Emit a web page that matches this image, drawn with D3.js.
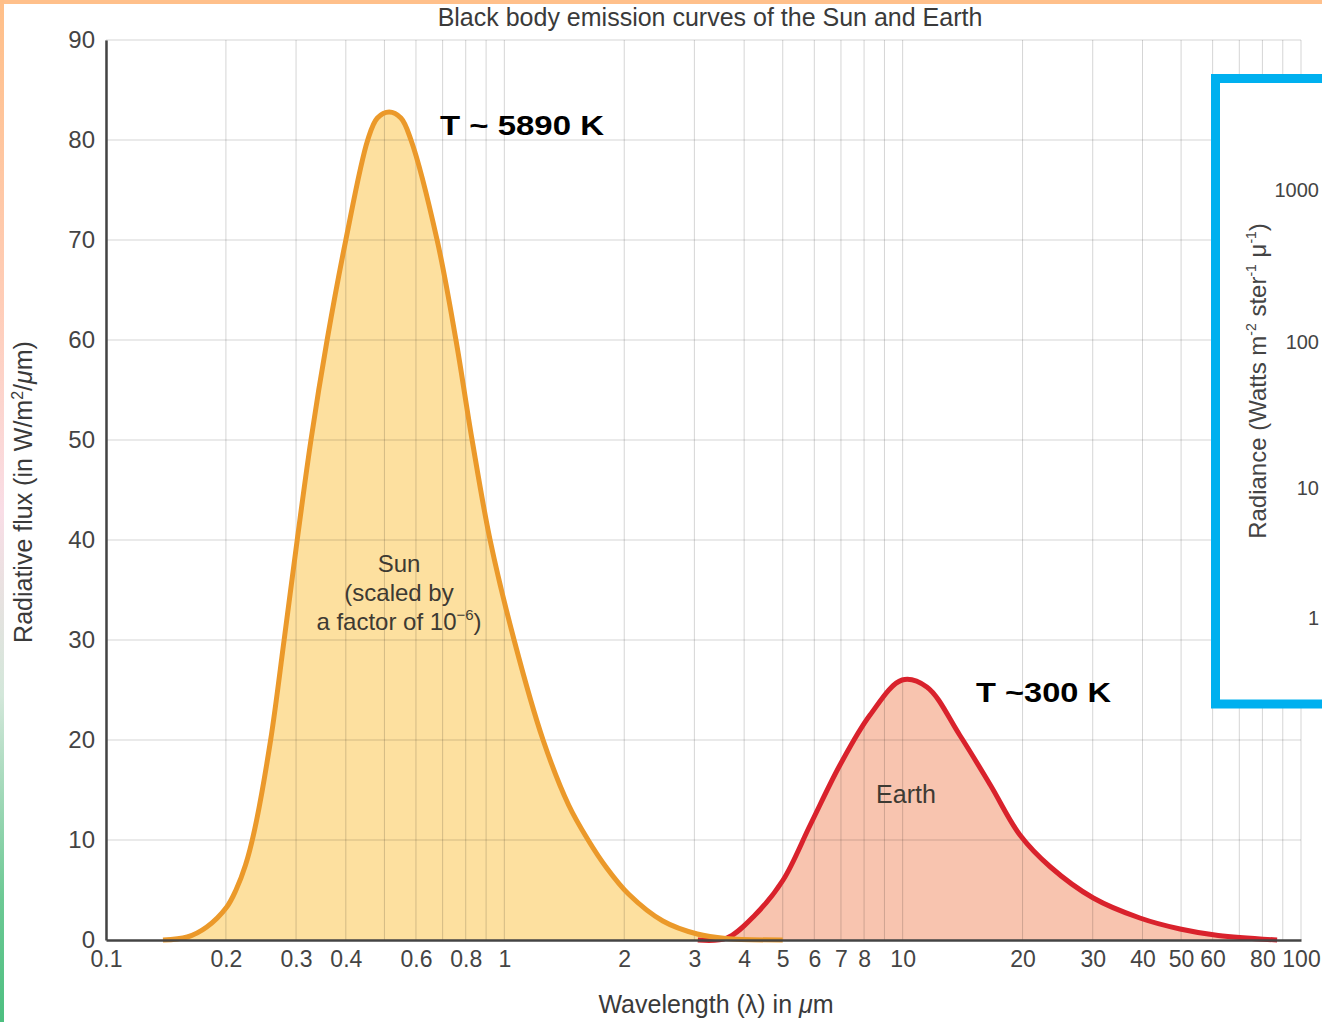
<!DOCTYPE html>
<html><head><meta charset="utf-8">
<script src="https://cdn.jsdelivr.net/npm/d3@7"></script>
<style>
html,body{margin:0;padding:0;background:#fff;}
svg{display:block;}
text{font-family:"Liberation Sans",Arial,sans-serif;}
</style></head>
<body>
<svg id="chart" width="1322" height="1022"></svg>
<script>
// ---------- data ----------
const sunWavelength = [0.139,0.160,0.179,0.201,0.212,0.224,0.236,0.259,0.280,0.302,0.327,0.359,0.400,0.454,0.480,0.514,0.550,0.583,0.678,0.756,0.830,0.921,1.058,1.251,1.450,1.623,1.800,2.05,2.50,3.05,3.60,5.0];
const sunFlux       = [0,0.3,1.3,3.3,5.0,7.5,11,20,30,40,50,60,70,80,82.2,82.8,82.2,80,70,60,50,40,30,20,13.5,10,7.3,4.6,1.9,0.6,0.15,0];
const earthWavelength = [3.06,3.62,4.26,5.01,5.86,6.96,8.28,9.97,11.5,13.9,16.6,19.7,23.5,30.1,39.4,49.7,62.0,87.1];
const earthFlux       = [0,0.2,2.5,6,11.5,17.5,22.5,26,25.3,20.5,15.5,10.5,7.3,4.2,2.2,1.1,0.45,0];
const xTickLabels = [0.1,0.2,0.3,0.4,0.6,0.8,1,2,3,4,5,6,7,8,10,20,30,40,50,60,80,100];
const xGridValues = [0.1,0.2,0.3,0.4,0.5,0.6,0.7,0.8,0.9,1,2,3,4,5,6,7,8,9,10,20,30,40,50,60,70,80,90,100];
const yTicks = [0,10,20,30,40,50,60,70,80,90];
const radianceTicks = [1000,100,10,1];

// ---------- setup ----------
const svg = d3.select("#chart");
const x = d3.scaleLog().domain([0.1,100]).range([106,1301]);
const y = d3.scaleLinear().domain([0,90]).range([940,40]);

const defs = svg.append("defs");
const lg = defs.append("linearGradient").attr("id","leftGrad").attr("x1",0).attr("y1",0).attr("x2",0).attr("y2",1);
[[0,"#ffbf88"],[0.3,"#ffcdb8"],[0.5,"#f9dde6"],[0.68,"#d3e7da"],[0.88,"#6cc994"],[1,"#4dbf80"]]
  .forEach(([o,c])=>lg.append("stop").attr("offset",o).attr("stop-color",c));

const sunData = sunWavelength.map((w,i)=>({w, v:sunFlux[i]}));
const earthData = earthWavelength.map((w,i)=>({w, v:earthFlux[i]}));

const curve = d3.curveCatmullRom.alpha(0.5);
const area = d3.area().x(d=>x(d.w)).y0(y(0)).y1(d=>y(d.v)).curve(curve);
const line = d3.line().x(d=>x(d.w)).y(d=>y(d.v)).curve(curve);

// fills
svg.append("path").datum(earthData).attr("d",area).attr("fill","#f8c4af");
svg.append("path").datum(sunData).attr("d",area).attr("fill","#fde09f");

// grid
const grid = svg.append("g").attr("stroke","#000").attr("stroke-opacity",0.17).attr("stroke-width",1);
grid.selectAll("line.v").data(xGridValues).join("line")
  .attr("x1",d=>x(d)).attr("x2",d=>x(d)).attr("y1",y(90)).attr("y2",y(0));
grid.selectAll("line.h").data(yTicks.slice(1)).join("line")
  .attr("x1",x(0.1)).attr("x2",x(100)).attr("y1",d=>y(d)).attr("y2",d=>y(d));

// curves
svg.append("path").datum(earthData).attr("d",line).attr("fill","none").attr("stroke","#d9222c").attr("stroke-width",5);
svg.append("path").datum(sunData).attr("d",line).attr("fill","none").attr("stroke","#eb992a").attr("stroke-width",5);

// axes
const xAxis = d3.axisBottom(x).tickValues(xTickLabels).tickSize(0).tickPadding(11).tickFormat(d=>String(d));
const gx = svg.append("g").attr("transform",`translate(0,${y(0)})`).call(xAxis);
gx.select(".domain").attr("stroke","#444").attr("stroke-width",2.5);
gx.selectAll("text").attr("font-size",23).attr("fill","#444").attr("font-family","'Liberation Sans',Arial,sans-serif");

const yAxis = d3.axisLeft(y).tickValues(yTicks).tickSize(0).tickPadding(11);
const gy = svg.append("g").attr("transform",`translate(${x(0.1)},0)`).call(yAxis);
gy.select(".domain").attr("stroke","#444").attr("stroke-width",2.5);
gy.selectAll("text").attr("font-size",24).attr("fill","#444").attr("font-family","'Liberation Sans',Arial,sans-serif");

// titles
svg.append("text").attr("x",710).attr("y",26).attr("text-anchor","middle")
  .attr("font-size",25).attr("fill","#3a3a3a").text("Black body emission curves of the Sun and Earth");

const xt = svg.append("text").attr("x",716).attr("y",1013).attr("text-anchor","middle").attr("font-size",25).attr("fill","#3a3a3a");
xt.append("tspan").text("Wavelength (λ) in ");
xt.append("tspan").attr("font-style","italic").text("μ");
xt.append("tspan").text("m");

const yt = svg.append("text").attr("transform","translate(32,492) rotate(-90)").attr("text-anchor","middle").attr("font-size",25).attr("fill","#3a3a3a");
yt.append("tspan").text("Radiative flux (in W/m");
yt.append("tspan").attr("font-size",16).attr("dy",-9).text("2");
yt.append("tspan").attr("dy",9).text("/");
yt.append("tspan").attr("font-style","italic").text("μ");
yt.append("tspan").text("m)");

// in-chart labels
const sl = svg.append("text").attr("text-anchor","middle").attr("font-size",24).attr("fill","#3d3a33");
sl.append("tspan").attr("x",399).attr("y",572).text("Sun");
sl.append("tspan").attr("x",399).attr("y",601).text("(scaled by");
const l3 = sl.append("tspan").attr("x",399).attr("y",630);
l3.append("tspan").text("a factor of 10");
l3.append("tspan").attr("font-size",15).attr("dy",-10).text("−6");
l3.append("tspan").attr("dy",10).text(")");

svg.append("text").attr("x",906).attr("y",803).attr("text-anchor","middle").attr("font-size",25).attr("fill","#3d3a33").text("Earth");

// annotations
svg.append("text").attr("x",440).attr("y",135).attr("font-size",28).attr("font-weight","bold")
  .attr("font-family","'DejaVu Sans',sans-serif").attr("fill","#000")
  .attr("textLength",164).attr("lengthAdjust","spacingAndGlyphs").text("T ~ 5890 K");
svg.append("text").attr("x",976).attr("y",702).attr("font-size",28).attr("font-weight","bold")
  .attr("font-family","'DejaVu Sans',sans-serif").attr("fill","#000")
  .attr("textLength",135).attr("lengthAdjust","spacingAndGlyphs").text("T ~300 K");

// inset box
svg.append("rect").attr("x",1215.5).attr("y",78.5).attr("width",140).attr("height",625.5)
  .attr("fill","#fff").attr("stroke","#00b0ef").attr("stroke-width",9);
const ry = d3.scaleLog().domain([1,10,100,1000]).range([625,495,349,197]);
svg.append("g").selectAll("text").data(radianceTicks).join("text")
  .attr("x",1319).attr("y",d=>ry(d)).attr("text-anchor","end")
  .attr("font-size",20).attr("fill","#444").text(d=>d);
const rt = svg.append("text").attr("transform","translate(1266,381) rotate(-90)").attr("text-anchor","middle").attr("font-size",24).attr("fill","#444");
rt.append("tspan").text("Radiance (Watts m");
rt.append("tspan").attr("font-size",14).attr("dy",-10).text("-2");
rt.append("tspan").attr("dy",10).text(" ster");
rt.append("tspan").attr("font-size",14).attr("dy",-10).text("-1");
rt.append("tspan").attr("dy",10).text(" μ");
rt.append("tspan").attr("font-size",14).attr("dy",-10).text("-1");
rt.append("tspan").attr("dy",10).text(")");

// frame bars
svg.append("rect").attr("x",0).attr("y",0).attr("width",1322).attr("height",4).attr("fill","#ffc08b");
svg.append("rect").attr("x",0).attr("y",0).attr("width",4).attr("height",1022).attr("fill","url(#leftGrad)");
</script>
</body></html>
